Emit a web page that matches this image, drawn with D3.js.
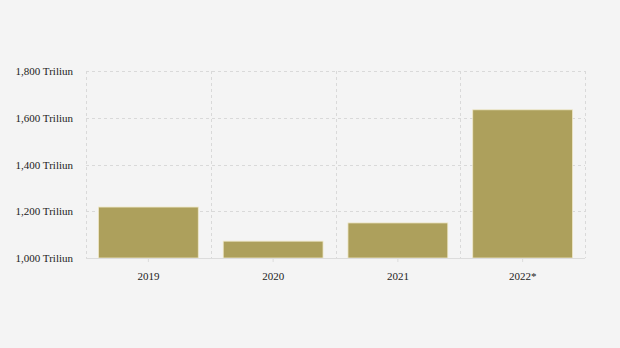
<!DOCTYPE html>
<html><head><meta charset="utf-8">
<script src="https://cdn.jsdelivr.net/npm/d3@7"></script>
<style>body{margin:0;background:#f4f4f4;}svg{display:block;}</style>
</head><body>
<svg id="c" width="620" height="348"></svg>
<script>
const categories = ["2019", "2020", "2021", "2022*"];
const values = [1218, 1072, 1150, 1634];
const yTicks = [1000, 1200, 1400, 1600, 1800];
const yTickLabels = ["1,000 Triliun", "1,200 Triliun", "1,400 Triliun", "1,600 Triliun", "1,800 Triliun"];

(function () {
const svg = d3.select("#c");
svg.append("rect").attr("width", 620).attr("height", 348).attr("fill", "#f4f4f4");
const pLeft = 86, pRight = 585, pTop = 71, pBottom = 258;
const x = d3.scaleBand().domain(categories).range([pLeft, pRight]).paddingInner(0.2).paddingOuter(0.1);
const y = d3.scaleLinear().domain([1000, 1800]).range([pBottom, pTop]);
const font = "'Liberation Serif', 'Times New Roman', serif";
const grid = "#d9d9d9";

// horizontal gridlines
svg.append("g").selectAll("line").data(yTicks.slice(1)).join("line")
  .attr("x1", pLeft).attr("x2", pRight)
  .attr("y1", d => Math.round(y(d)) + 0.5).attr("y2", d => Math.round(y(d)) + 0.5)
  .attr("stroke", grid).attr("stroke-dasharray", "3,3");
// vertical gridlines at band edges
const edges = categories.map(c => x(c) - x.step() * x.paddingInner() / 2).concat([pRight]);
edges[0] = pLeft;
svg.append("g").selectAll("line").data(edges).join("line")
  .attr("x1", d => Math.round(d) + 0.5).attr("x2", d => Math.round(d) + 0.5)
  .attr("y1", pTop).attr("y2", pBottom)
  .attr("stroke", grid).attr("stroke-dasharray", "3,3");

// bars
svg.append("g").selectAll("rect").data(values).join("rect")
  .attr("x", (d, i) => x(categories[i]))
  .attr("width", x.bandwidth())
  .attr("y", d => y(d))
  .attr("height", d => pBottom - y(d))
  .attr("fill", "#ada05c")
  .attr("stroke", "#efe8c8").attr("stroke-width", 0.8);

// x axis
const xa = svg.append("g").attr("transform", `translate(0,${pBottom})`)
  .call(d3.axisBottom(x).tickSize(4).tickPadding(10));
xa.select(".domain").attr("stroke", "#dcdcdc").attr("d", `M${pLeft},0.5H${pRight}`);
xa.selectAll(".tick line").attr("stroke", "#dcdcdc");
xa.selectAll("text").attr("font-family", font).attr("font-size", 11).attr("fill", "#222");

// y axis labels
const ya = svg.append("g").attr("transform", `translate(${pLeft},0)`)
  .call(d3.axisLeft(y).tickValues(yTicks).tickFormat((d, i) => yTickLabels[i]).tickSize(0).tickPadding(13));
ya.select(".domain").remove();
ya.selectAll("text").attr("font-family", font).attr("font-size", 11).attr("fill", "#222");
})();
</script>
</body></html>
